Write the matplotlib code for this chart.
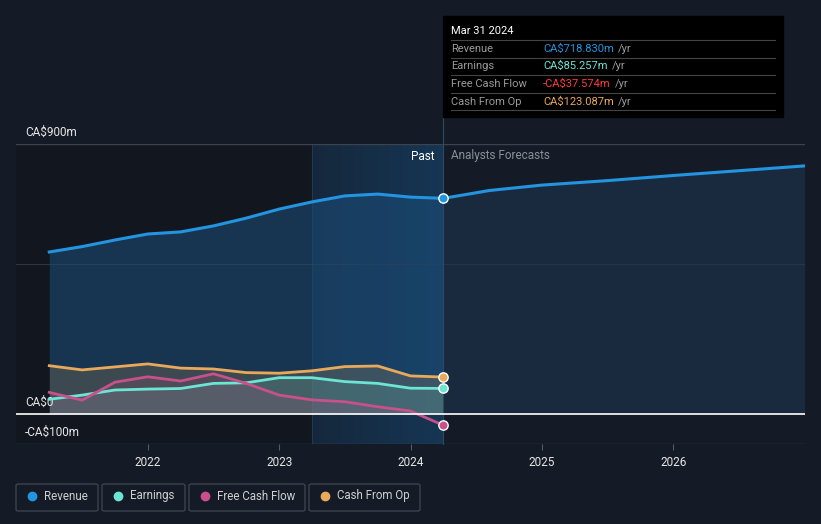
import numpy as np
import matplotlib.pyplot as plt
from matplotlib.patches import Rectangle, FancyBboxPatch

# quarterly history, Mar 2021 -> Mar 2024 (CA$ millions)
quarters = np.arange(2021.25, 2024.26, 0.25)
revenue = [540, 558, 580, 600, 607, 627, 653, 683, 707, 727, 733, 723, 718.83]
earnings = [49, 63, 80, 83, 85, 102, 104, 121, 121, 108, 102, 86, 85.257]
free_cash_flow = [72, 46, 106, 124, 110, 134, 102, 63, 47, 41, 24, 10, -37.574]
cash_from_op = [161, 147, 157, 167, 153, 150, 138, 136, 144, 158, 160, 127, 123.087]

# analyst revenue forecast
fc_years = [2024.25, 2024.6, 2025.0, 2025.5, 2026.0, 2026.5, 2027.0]
fc_revenue = [718.83, 745, 763, 778, 795, 811, 827]

year_ticks = [2022, 2023, 2024, 2025, 2026]

BG = "#151b26"
C_REV = "#2394df"
C_EARN = "#6ce5d5"
C_FCF = "#c8508b"
C_CFO = "#e8a95a"

W, H = 821, 524
fig = plt.figure(figsize=(W / 100, H / 100), dpi=100, facecolor=BG)
plt.rcParams["font.family"] = ["Roboto", "DejaVu Sans"]

x0, x1 = 2021.24 - 32 / 131.5, 2024.25 + 362 / 131.5
ax = fig.add_axes([16 / W, (H - 444) / H, (805 - 16) / W, 300 / H])
ax.set_facecolor(BG)
ax.set_xlim(x0, x1)
ax.set_ylim(-100, 900)
for s in ax.spines.values():
    s.set_visible(False)
ax.set_yticks([])
ax.set_xticks(year_ticks)
ax.set_xticklabels([str(y) for y in year_ticks], color="#e6e6e6", fontsize=8.5)
ax.tick_params(axis="x", length=4, color="#555b66", pad=5)

now = quarters[-1]
# darker area before the past year, highlighted past year
ax.add_patch(Rectangle((x0, -100), now - 1 - x0, 1000, color="#12161e", zorder=0))
grad = np.linspace(0, 1, 100).reshape(1, -1)
ax.imshow(grad, extent=[now - 1, now, -100, 900], aspect="auto",
          cmap=plt.matplotlib.colors.LinearSegmentedColormap.from_list("g", ["#152f49", "#17456e"]),
          alpha=0.65, zorder=0.5)
ax.axvline(now - 1, color="#1f3a52", lw=0.8, zorder=0.6)

# grid lines
ax.axhline(900, color="#3d434d", lw=1, zorder=1)
ax.axhline(500, color="#2c3540", lw=0.8, zorder=1)
ax.axhline(-100, color="#3d434d", lw=1, zorder=1)

# fills
ax.fill_between(quarters, revenue, 0, color="#1c4e7a", alpha=0.55, lw=0, zorder=2)
ax.fill_between(fc_years, fc_revenue, 0, color="#1d3550", alpha=0.6, lw=0, zorder=2)
ax.fill_between(quarters, cash_from_op, 0, color=C_CFO, alpha=0.18, lw=0, zorder=2)
ax.fill_between(quarters, earnings, 0, color=C_EARN, alpha=0.15, lw=0, zorder=2)
ax.fill_between(quarters, np.clip(free_cash_flow, 0, None), 0, color=C_FCF, alpha=0.15, lw=0, zorder=2)

# lines
ax.plot(fc_years, fc_revenue, color=C_REV, lw=2.2, zorder=4, solid_capstyle="round")
ax.plot(quarters, revenue, color=C_REV, lw=2.2, zorder=4, solid_joinstyle="round")
ax.plot(quarters, cash_from_op, color=C_CFO, lw=2, zorder=4, solid_joinstyle="round")
ax.plot(quarters, earnings, color=C_EARN, lw=2, zorder=4, solid_joinstyle="round")
ax.plot(quarters, free_cash_flow, color=C_FCF, lw=2, zorder=5, solid_joinstyle="round")
ax.axhline(0, color="white", lw=1.2, zorder=6)

for vals, c in [(revenue, C_REV), (earnings, C_EARN), (free_cash_flow, C_FCF), (cash_from_op, C_CFO)]:
    ax.scatter([now], [vals[-1]], s=45, color=c, edgecolor="white", lw=1, zorder=7, clip_on=False)

# divider between past and forecast, up to the tooltip
ax.plot([now, now], [-100, 1100], color="#2a4a66", lw=0.8, zorder=3, clip_on=False)

ax.text(now - 0.07, 860, "Past", color="white", fontsize=8.5, ha="right", va="center")
ax.text(now + 0.06, 860, "Analysts Forecasts", color="#8a8f98", fontsize=8.5, ha="left", va="center")

ax.text(x0 + 9 / 131.5, 940, "CA$900m", color="#e6e6e6", fontsize=8.5, va="center", clip_on=False)
ax.text(x0 + 9 / 131.5, 40, "CA$0", color="#e6e6e6", fontsize=8.5, va="center")
ax.text(x0 + 9 / 131.5, -60, "-CA$100m", color="#e6e6e6", fontsize=8.5, va="center")

# tooltip box
fig.patches.append(Rectangle((443 / W, (H - 117) / H), 340 / W, 101 / H, transform=fig.transFigure,
                             color="black", zorder=10))
fig.text(451 / W, (H - 31) / H, "Mar 31 2024", color="white", fontsize=8, va="center", zorder=11)
rows = [("Revenue", "CA$718.830m", C_REV), ("Earnings", "CA$85.257m", C_EARN),
        ("Free Cash Flow", "-CA$37.574m", "#ff3b3b"), ("Cash From Op", "CA$123.087m", C_CFO)]
for i, (name, val, c) in enumerate(rows):
    yc = 48.5 + i * 17.7
    fig.add_artist(plt.Line2D([451 / W, 775 / W], [(H - yc + 8.5) / H] * 2, color="#444", lw=0.8, zorder=11))
    fig.text(451 / W, (H - yc) / H, name, color="#9a9a9a", fontsize=8, va="center", zorder=11)
    t = fig.text(543 / W, (H - yc) / H, val, color=c, fontsize=8, va="center", zorder=11)
    fig.canvas.draw()
    bb = t.get_window_extent()
    fig.text(bb.x1 / W + 4 / W, (H - yc) / H, "/yr", color="#9a9a9a", fontsize=8, va="center", zorder=11)
fig.add_artist(plt.Line2D([451 / W, 775 / W], [(H - 110) / H] * 2, color="#444", lw=0.8, zorder=11))

# legend buttons
items = [("Revenue", C_REV, 16, 98), ("Earnings", C_EARN, 102, 185),
         ("Free Cash Flow", C_FCF, 189, 305), ("Cash From Op", C_CFO, 309, 420)]
for name, c, xa, xb in items:
    fig.patches.append(FancyBboxPatch((xa / W, (H - 511) / H), (xb - xa) / W, 27 / H,
                                      boxstyle="round,pad=0,rounding_size=0.003", transform=fig.transFigure,
                                      facecolor=BG, edgecolor="#3d434d", lw=1))
    fig.add_artist(plt.Line2D([(xa + 16) / W], [(H - 496) / H], marker="o", ms=6, color=c, lw=0))
    fig.text((xa + 28) / W, (H - 496) / H, name, color="#d0d0d0", fontsize=8.3, va="center")

fig.savefig("out.png", dpi=100, facecolor=BG)
